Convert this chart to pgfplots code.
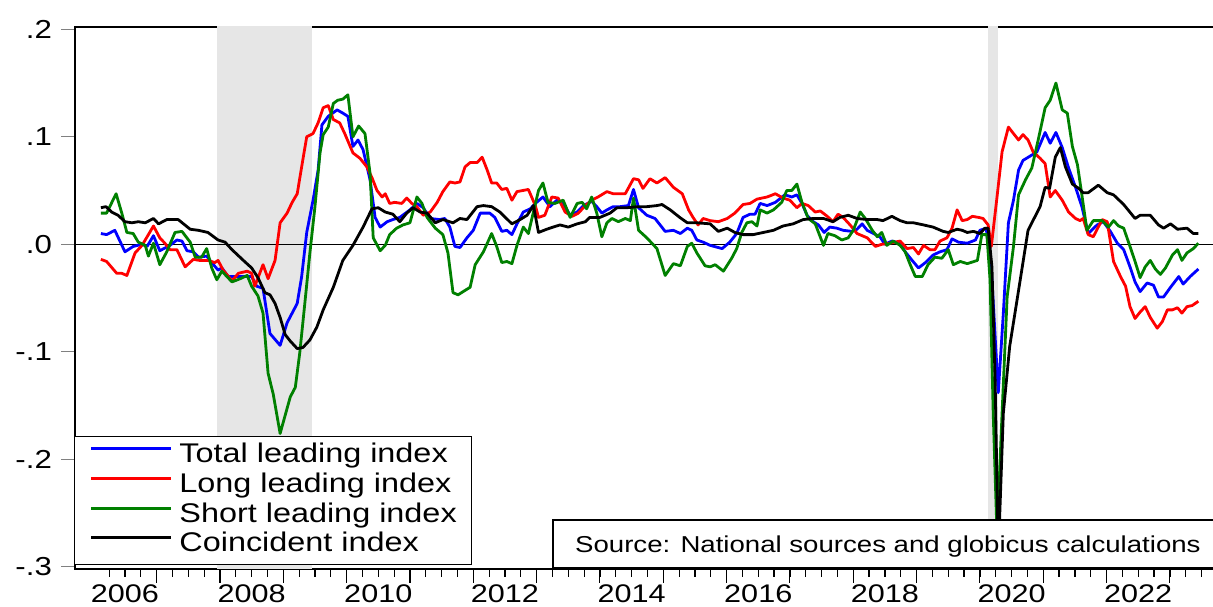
\documentclass[border=0pt]{standalone}
\usepackage{fontspec}
\setmainfont{Liberation Sans}[FakeStretch=1.2]
\usepackage{pgfplots}
\pgfplotsset{compat=1.18}
\definecolor{shade}{RGB}{230,230,230}
\definecolor{dgreen}{RGB}{0,128,0}
\begin{document}
\begin{tikzpicture}[x=1pt,y=1pt]
\useasboundingbox (0,0) rectangle (1213,607);
\begin{axis}[
  at={(75pt,38pt)}, anchor=south west,
  scale only axis, width=1140pt, height=542pt,
  xmin=2005.711, xmax=2023.712, ymin=-0.302, ymax=0.2021,
  axis line style={line width=1.6pt},
  tick align=outside, xtick pos=left, ytick pos=left,
  xtick={2007,...,2023}, xticklabels={},
  minor xtick={2006.25,2006.5,...,2023.5},
  major tick length=14pt, minor tick length=8pt,
  xtick style={line width=1.2pt, black},
  ytick style={line width=1pt, draw=gray},
  extra x ticks={2006.5,2008.5,2010.5,2012.5,2014.5,2016.5,2018.5,2020.5,2022.5},
  extra x tick labels={2006,2008,2010,2012,2014,2016,2018,2020,2022},
  extra x tick style={major tick length=0pt},
  ytick={-0.3,-0.2,-0.1,0,0.1,0.2},
  yticklabels={-.3,-.2,-.1,.0,.1,.2},
  xticklabel style={font=\fontsize{25.5}{29}\selectfont, inner sep=0pt, anchor=north, yshift=-15.5pt},
  yticklabel style={font=\fontsize{26}{30}\selectfont, inner sep=0pt, anchor=east, xshift=-9pt},
  legend style={at={(0,0)}, anchor=south west, xshift=-1pt, yshift=4pt,
    draw=black, line width=1.2pt, fill=white,
    font=\fontsize{27}{31}\selectfont,
    inner xsep=15pt, inner ysep=6.5pt, row sep=3.7pt, column sep=7pt,
    nodes={inner sep=0pt, text height=20pt, text depth=6pt}},
  legend cell align=left,
  legend image code/.code={\draw[#1] (0pt,7pt) -- (80pt,7pt);},
  every axis plot/.append style={line join=round},
]
\addplot[forget plot, fill=shade, draw=none] coordinates {(2007.958,-0.31) (2007.958,0.21) (2009.458,0.21) (2009.458,-0.31)};
\addplot[forget plot, fill=shade, draw=none] coordinates {(2020.125,-0.31) (2020.125,0.21) (2020.292,0.21) (2020.292,-0.31)};
\addplot[forget plot, black, line width=1pt] coordinates {(2005.6,0) (2023.8,0)};

\addplot[blue, line width=2.8pt] coordinates {
(2006.12,0.010) (2006.21,0.009) (2006.34,0.013) (2006.50,-0.007) (2006.63,-0.002) (2006.77,0.000) (2006.85,-0.002) (2006.95,0.008) (2007.05,-0.006) (2007.21,-0.001) (2007.32,0.004) (2007.40,0.003) (2007.48,-0.006) (2007.58,-0.007) (2007.66,-0.012) (2007.79,-0.011) (2007.87,-0.017) (2007.97,-0.024) (2008.03,-0.022) (2008.13,-0.030) (2008.21,-0.030) (2008.37,-0.030) (2008.50,-0.030) (2008.58,-0.039) (2008.68,-0.041) (2008.79,-0.083) (2008.95,-0.094) (2009.06,-0.073) (2009.14,-0.064) (2009.22,-0.055) (2009.29,-0.030) (2009.37,0.011) (2009.47,0.041) (2009.55,0.069) (2009.61,0.111) (2009.71,0.119) (2009.85,0.125) (2009.94,0.122) (2010.02,0.119) (2010.10,0.091) (2010.18,0.097) (2010.26,0.088) (2010.37,0.060) (2010.45,0.025) (2010.53,0.016) (2010.64,0.021) (2010.73,0.023) (2010.84,0.025) (2011.00,0.032) (2011.11,0.038) (2011.21,0.034) (2011.32,0.024) (2011.47,0.023) (2011.55,0.024) (2011.63,0.016) (2011.71,-0.002) (2011.79,-0.003) (2011.90,0.006) (2012.00,0.013) (2012.11,0.029) (2012.26,0.029) (2012.34,0.025) (2012.45,0.012) (2012.53,0.013) (2012.61,0.009) (2012.69,0.019) (2012.79,0.030) (2012.90,0.033) (2012.98,0.038) (2013.10,0.044) (2013.21,0.035) (2013.32,0.041) (2013.42,0.038) (2013.53,0.027) (2013.64,0.030) (2013.74,0.036) (2013.87,0.040) (2013.95,0.035) (2014.03,0.029) (2014.11,0.032) (2014.21,0.035) (2014.32,0.035) (2014.45,0.036) (2014.53,0.051) (2014.61,0.034) (2014.74,0.027) (2014.87,0.024) (2015.03,0.012) (2015.16,0.013) (2015.27,0.010) (2015.38,0.015) (2015.45,0.013) (2015.53,0.004) (2015.63,0.002) (2015.74,-0.001) (2015.93,-0.004) (2016.05,0.002) (2016.16,0.010) (2016.26,0.025) (2016.37,0.028) (2016.45,0.028) (2016.53,0.038) (2016.64,0.036) (2016.77,0.039) (2016.92,0.046) (2017.03,0.044) (2017.11,0.046) (2017.19,0.038) (2017.27,0.027) (2017.37,0.021) (2017.45,0.018) (2017.54,0.011) (2017.63,0.016) (2017.74,0.015) (2017.84,0.013) (2017.98,0.012) (2018.06,0.014) (2018.14,0.019) (2018.22,0.013) (2018.32,0.010) (2018.42,0.007) (2018.50,0.000) (2018.61,0.003) (2018.74,0.001) (2018.82,-0.007) (2018.93,-0.015) (2019.03,-0.022) (2019.14,-0.017) (2019.26,-0.010) (2019.37,-0.007) (2019.48,-0.005) (2019.56,0.005) (2019.66,0.002) (2019.80,0.001) (2019.93,0.004) (2020.00,0.013) (2020.10,0.015) (2020.19,-0.033) (2020.29,-0.138) (2020.37,-0.064) (2020.45,0.020) (2020.53,0.041) (2020.61,0.069) (2020.68,0.078) (2020.82,0.083) (2020.90,0.086) (2021.03,0.104) (2021.11,0.094) (2021.20,0.104) (2021.30,0.090) (2021.40,0.071) (2021.51,0.053) (2021.61,0.035) (2021.71,0.010) (2021.85,0.018) (2021.95,0.021) (2022.06,0.012) (2022.17,0.001) (2022.27,-0.005) (2022.37,-0.021) (2022.45,-0.035) (2022.53,-0.044) (2022.64,-0.036) (2022.74,-0.038) (2022.82,-0.049) (2022.90,-0.049) (2023.01,-0.040) (2023.14,-0.030) (2023.21,-0.037) (2023.32,-0.030) (2023.45,-0.023)
};
\addlegendentry{Total leading index}

\addplot[red, line width=2.8pt] coordinates {
(2006.12,-0.014) (2006.21,-0.016) (2006.37,-0.027) (2006.45,-0.027) (2006.53,-0.029) (2006.66,-0.008) (2006.77,-0.001) (2006.95,0.017) (2007.05,0.006) (2007.13,0.001) (2007.21,-0.005) (2007.32,-0.005) (2007.45,-0.021) (2007.58,-0.014) (2007.68,-0.015) (2007.81,-0.015) (2007.92,-0.017) (2007.97,-0.015) (2008.05,-0.024) (2008.19,-0.034) (2008.29,-0.027) (2008.43,-0.025) (2008.50,-0.027) (2008.55,-0.039) (2008.68,-0.019) (2008.76,-0.032) (2008.87,-0.015) (2008.95,0.020) (2009.06,0.029) (2009.14,0.039) (2009.22,0.047) (2009.29,0.072) (2009.37,0.100) (2009.47,0.103) (2009.55,0.113) (2009.63,0.127) (2009.71,0.129) (2009.79,0.116) (2009.89,0.113) (2009.97,0.103) (2010.10,0.085) (2010.21,0.080) (2010.32,0.072) (2010.40,0.062) (2010.48,0.050) (2010.56,0.044) (2010.61,0.047) (2010.68,0.038) (2010.76,0.039) (2010.87,0.038) (2010.95,0.043) (2011.03,0.038) (2011.11,0.035) (2011.21,0.027) (2011.32,0.030) (2011.43,0.039) (2011.52,0.049) (2011.63,0.058) (2011.71,0.057) (2011.79,0.058) (2011.87,0.072) (2011.95,0.076) (2012.06,0.076) (2012.14,0.081) (2012.22,0.069) (2012.29,0.057) (2012.37,0.057) (2012.45,0.051) (2012.53,0.052) (2012.61,0.041) (2012.69,0.049) (2012.87,0.051) (2012.98,0.036) (2013.03,0.025) (2013.13,0.027) (2013.24,0.044) (2013.34,0.043) (2013.45,0.030) (2013.56,0.026) (2013.66,0.029) (2013.77,0.036) (2013.87,0.041) (2013.97,0.044) (2014.11,0.049) (2014.21,0.047) (2014.40,0.047) (2014.53,0.061) (2014.61,0.060) (2014.68,0.052) (2014.79,0.061) (2014.90,0.057) (2015.03,0.062) (2015.16,0.053) (2015.30,0.047) (2015.40,0.032) (2015.47,0.025) (2015.55,0.018) (2015.63,0.024) (2015.74,0.022) (2015.87,0.021) (2016.01,0.024) (2016.13,0.029) (2016.26,0.037) (2016.37,0.038) (2016.48,0.042) (2016.64,0.044) (2016.77,0.047) (2016.89,0.043) (2017.00,0.041) (2017.11,0.034) (2017.19,0.038) (2017.29,0.036) (2017.40,0.030) (2017.48,0.031) (2017.59,0.026) (2017.68,0.021) (2017.76,0.028) (2017.84,0.025) (2017.95,0.018) (2018.06,0.010) (2018.22,0.006) (2018.35,-0.002) (2018.45,0.000) (2018.58,0.001) (2018.74,0.003) (2018.85,-0.004) (2018.95,-0.003) (2019.03,-0.009) (2019.11,-0.001) (2019.21,-0.005) (2019.29,-0.005) (2019.37,0.003) (2019.48,0.006) (2019.56,0.015) (2019.64,0.032) (2019.72,0.022) (2019.80,0.023) (2019.88,0.026) (2019.98,0.025) (2020.05,0.024) (2020.13,0.018) (2020.18,-0.002) (2020.27,0.044) (2020.35,0.086) (2020.45,0.109) (2020.53,0.103) (2020.61,0.097) (2020.68,0.102) (2020.76,0.097) (2020.84,0.086) (2020.95,0.080) (2021.03,0.075) (2021.11,0.044) (2021.19,0.050) (2021.30,0.041) (2021.40,0.030) (2021.51,0.024) (2021.58,0.022) (2021.63,0.024) (2021.71,0.009) (2021.79,0.007) (2021.93,0.023) (2022.01,0.021) (2022.11,-0.016) (2022.22,-0.030) (2022.30,-0.039) (2022.37,-0.058) (2022.45,-0.069) (2022.53,-0.063) (2022.61,-0.058) (2022.69,-0.068) (2022.80,-0.078) (2022.88,-0.072) (2022.96,-0.061) (2023.04,-0.061) (2023.12,-0.059) (2023.19,-0.064) (2023.27,-0.058) (2023.35,-0.057) (2023.45,-0.053)
};
\addlegendentry{Long leading index}

\addplot[dgreen, line width=2.8pt] coordinates {
(2006.12,0.029) (2006.21,0.029) (2006.36,0.047) (2006.45,0.029) (2006.53,0.011) (2006.63,0.010) (2006.71,0.002) (2006.82,-0.001) (2006.87,-0.011) (2006.95,0.001) (2007.05,-0.019) (2007.16,-0.007) (2007.29,0.011) (2007.40,0.012) (2007.53,0.002) (2007.61,-0.012) (2007.71,-0.012) (2007.79,-0.004) (2007.87,-0.022) (2007.95,-0.033) (2008.03,-0.025) (2008.19,-0.035) (2008.32,-0.032) (2008.43,-0.029) (2008.50,-0.039) (2008.60,-0.048) (2008.68,-0.064) (2008.76,-0.120) (2008.84,-0.139) (2008.95,-0.176) (2009.11,-0.142) (2009.19,-0.133) (2009.26,-0.101) (2009.34,-0.055) (2009.42,-0.008) (2009.50,0.035) (2009.58,0.085) (2009.63,0.102) (2009.71,0.109) (2009.79,0.131) (2009.86,0.134) (2009.94,0.135) (2010.02,0.139) (2010.10,0.100) (2010.19,0.110) (2010.29,0.103) (2010.37,0.066) (2010.42,0.006) (2010.53,-0.006) (2010.61,-0.001) (2010.68,0.009) (2010.79,0.015) (2010.89,0.018) (2011.00,0.020) (2011.11,0.044) (2011.19,0.038) (2011.27,0.025) (2011.40,0.015) (2011.52,0.009) (2011.60,-0.008) (2011.68,-0.045) (2011.76,-0.047) (2011.84,-0.044) (2011.95,-0.040) (2012.03,-0.019) (2012.16,-0.007) (2012.29,0.010) (2012.37,-0.002) (2012.45,-0.017) (2012.53,-0.016) (2012.61,-0.018) (2012.69,-0.001) (2012.79,0.016) (2012.87,0.010) (2012.95,0.030) (2013.03,0.050) (2013.10,0.057) (2013.18,0.039) (2013.29,0.038) (2013.42,0.041) (2013.53,0.025) (2013.64,0.038) (2013.72,0.039) (2013.79,0.033) (2013.87,0.044) (2013.95,0.029) (2014.03,0.007) (2014.11,0.020) (2014.19,0.024) (2014.29,0.021) (2014.40,0.024) (2014.48,0.022) (2014.53,0.043) (2014.61,0.013) (2014.74,0.006) (2014.90,-0.004) (2015.03,-0.029) (2015.16,-0.018) (2015.27,-0.020) (2015.38,-0.002) (2015.45,0.001) (2015.53,-0.008) (2015.66,-0.020) (2015.74,-0.021) (2015.82,-0.019) (2015.95,-0.025) (2016.08,-0.013) (2016.16,-0.004) (2016.24,0.011) (2016.32,0.020) (2016.40,0.021) (2016.48,0.017) (2016.53,0.032) (2016.64,0.029) (2016.74,0.032) (2016.87,0.039) (2016.95,0.050) (2017.03,0.050) (2017.11,0.056) (2017.19,0.039) (2017.29,0.024) (2017.40,0.019) (2017.53,-0.001) (2017.60,0.010) (2017.71,0.008) (2017.82,0.004) (2017.92,0.006) (2018.00,0.013) (2018.11,0.030) (2018.19,0.024) (2018.30,0.013) (2018.38,0.007) (2018.45,0.011) (2018.53,-0.001) (2018.63,0.003) (2018.74,-0.001) (2018.82,-0.007) (2018.90,-0.019) (2018.98,-0.030) (2019.09,-0.030) (2019.18,-0.019) (2019.29,-0.012) (2019.40,-0.013) (2019.50,-0.005) (2019.58,-0.019) (2019.69,-0.016) (2019.80,-0.018) (2019.96,-0.015) (2020.03,0.009) (2020.11,0.009) (2020.16,-0.033) (2020.21,-0.157) (2020.27,-0.270) (2020.35,-0.157) (2020.43,-0.049) (2020.53,-0.002) (2020.61,0.046) (2020.72,0.060) (2020.82,0.071) (2020.92,0.097) (2021.03,0.127) (2021.11,0.134) (2021.20,0.150) (2021.30,0.125) (2021.38,0.122) (2021.46,0.091) (2021.54,0.074) (2021.61,0.046) (2021.69,0.013) (2021.79,0.022) (2021.93,0.022) (2022.03,0.016) (2022.11,0.022) (2022.19,0.017) (2022.27,0.015) (2022.37,-0.002) (2022.45,-0.016) (2022.53,-0.031) (2022.61,-0.021) (2022.69,-0.015) (2022.77,-0.023) (2022.85,-0.028) (2022.93,-0.022) (2023.04,-0.010) (2023.12,-0.005) (2023.19,-0.015) (2023.27,-0.008) (2023.37,-0.004) (2023.45,0.001)
};
\addlegendentry{Short leading index}

\addplot[black, line width=2.8pt] coordinates {
(2006.12,0.034) (2006.20,0.035) (2006.29,0.030) (2006.39,0.027) (2006.50,0.021) (2006.61,0.020) (2006.71,0.021) (2006.82,0.020) (2006.95,0.024) (2007.03,0.019) (2007.16,0.023) (2007.34,0.023) (2007.53,0.014) (2007.66,0.013) (2007.81,0.011) (2007.97,0.004) (2008.08,0.002) (2008.19,-0.005) (2008.37,-0.015) (2008.50,-0.022) (2008.60,-0.031) (2008.71,-0.045) (2008.79,-0.047) (2008.87,-0.055) (2008.95,-0.068) (2009.03,-0.084) (2009.11,-0.090) (2009.22,-0.097) (2009.31,-0.096) (2009.42,-0.089) (2009.53,-0.077) (2009.63,-0.061) (2009.79,-0.040) (2009.94,-0.015) (2010.10,-0.001) (2010.26,0.016) (2010.40,0.033) (2010.50,0.034) (2010.61,0.030) (2010.73,0.028) (2010.84,0.021) (2010.95,0.029) (2011.05,0.034) (2011.16,0.030) (2011.27,0.029) (2011.40,0.020) (2011.52,0.023) (2011.68,0.020) (2011.79,0.024) (2011.90,0.023) (2012.06,0.035) (2012.16,0.036) (2012.29,0.035) (2012.42,0.030) (2012.61,0.019) (2012.74,0.023) (2012.85,0.027) (2012.95,0.036) (2013.03,0.011) (2013.16,0.014) (2013.26,0.016) (2013.37,0.018) (2013.50,0.016) (2013.64,0.019) (2013.77,0.021) (2013.84,0.025) (2014.00,0.025) (2014.16,0.029) (2014.27,0.034) (2014.43,0.034) (2014.59,0.035) (2014.74,0.035) (2014.90,0.036) (2014.98,0.037) (2015.11,0.032) (2015.26,0.025) (2015.38,0.020) (2015.53,0.020) (2015.74,0.019) (2015.87,0.012) (2016.01,0.015) (2016.13,0.011) (2016.26,0.009) (2016.42,0.009) (2016.58,0.011) (2016.74,0.013) (2016.89,0.017) (2017.05,0.019) (2017.21,0.023) (2017.37,0.024) (2017.53,0.024) (2017.68,0.021) (2017.79,0.025) (2017.92,0.027) (2018.06,0.024) (2018.22,0.023) (2018.38,0.023) (2018.47,0.022) (2018.61,0.026) (2018.74,0.022) (2018.85,0.020) (2018.95,0.020) (2019.11,0.018) (2019.26,0.016) (2019.42,0.012) (2019.50,0.011) (2019.64,0.014) (2019.72,0.013) (2019.80,0.011) (2019.90,0.012) (2020.00,0.010) (2020.08,0.015) (2020.13,0.015) (2020.19,-0.021) (2020.24,-0.126) (2020.29,-0.290) (2020.37,-0.157) (2020.47,-0.095) (2020.61,-0.043) (2020.76,0.013) (2020.95,0.035) (2021.03,0.053) (2021.10,0.052) (2021.19,0.081) (2021.27,0.090) (2021.35,0.072) (2021.46,0.056) (2021.56,0.052) (2021.63,0.048) (2021.71,0.048) (2021.87,0.055) (2022.01,0.048) (2022.11,0.046) (2022.27,0.037) (2022.45,0.024) (2022.53,0.027) (2022.69,0.027) (2022.82,0.018) (2022.90,0.015) (2023.01,0.019) (2023.12,0.014) (2023.27,0.015) (2023.37,0.010) (2023.45,0.010)
};
\addlegendentry{Coincident index}
\end{axis}
\draw[line width=1.2pt, fill=white] (553,39) rectangle (1216,87);
\node[anchor=base west, inner sep=0pt, font=\fontsize{23}{27}\selectfont] at (575,54) {Source: National sources and globicus calculations};
\end{tikzpicture}
\end{document}
